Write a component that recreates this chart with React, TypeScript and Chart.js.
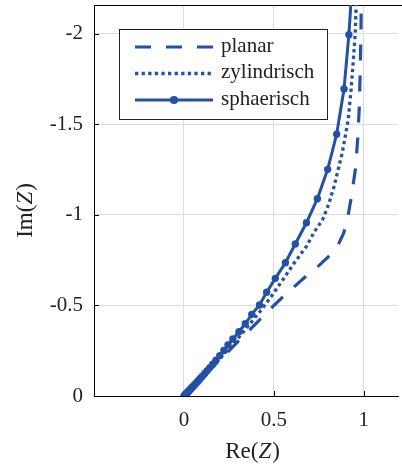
import React, { useEffect, useRef } from 'react';
import { Chart, registerables } from 'chart.js';

Chart.register(...registerables);

// ---- data ----
const seriesNames = ['planar', 'zylindrisch', 'sphaerisch'];

const planarRe = [0, 0.1, 0.2, 0.3, 0.4, 0.5, 0.558, 0.62, 0.682, 0.75, 0.812, 0.855, 0.889, 0.913, 0.931, 0.954, 0.967, 0.975, 0.98, 0.984, 0.987];
const planarIm = [0, -0.1, -0.2, -0.3, -0.4, -0.5, -0.555, -0.61, -0.665, -0.72, -0.778, -0.83, -0.902, -1.0, -1.101, -1.258, -1.433, -1.6, -1.8, -2.0, -2.3];

const zylRe = [0, 0.1, 0.2, 0.3, 0.36, 0.429, 0.485, 0.549, 0.613, 0.68, 0.724, 0.77, 0.805, 0.834, 0.88, 0.913, 0.93, 0.945, 0.952, 0.962];
const zylIm = [0, -0.102, -0.208, -0.318, -0.39, -0.475, -0.549, -0.641, -0.735, -0.825, -0.906, -0.972, -1.06, -1.156, -1.343, -1.525, -1.7, -1.9, -2.0, -2.3];

const sphRe = [0, 0.005, 0.006, 0.007, 0.008, 0.009, 0.01, 0.012, 0.013, 0.015, 0.017, 0.019, 0.021, 0.023, 0.026, 0.029, 0.033, 0.037, 0.041, 0.046, 0.052, 0.058, 0.066, 0.074, 0.082, 0.092, 0.103, 0.116, 0.129, 0.144, 0.16, 0.178, 0.199, 0.222, 0.245, 0.272, 0.306, 0.341, 0.377, 0.42, 0.46, 0.508, 0.564, 0.619, 0.681, 0.742, 0.799, 0.849, 0.89, 0.917, 0.94];
const sphIm = [0, -0.005, -0.006, -0.007, -0.008, -0.009, -0.01, -0.012, -0.013, -0.015, -0.017, -0.019, -0.021, -0.024, -0.027, -0.03, -0.034, -0.038, -0.043, -0.048, -0.054, -0.061, -0.069, -0.078, -0.087, -0.098, -0.11, -0.124, -0.14, -0.157, -0.176, -0.198, -0.223, -0.251, -0.282, -0.315, -0.355, -0.399, -0.451, -0.503, -0.573, -0.65, -0.736, -0.84, -0.957, -1.09, -1.252, -1.446, -1.696, -1.996, -2.35];

const xTicks = [-0.5, 0, 0.5, 1];
const yTicks = [0, -0.5, -1, -1.5, -2];
const xRange = [-0.5, 1.19];
const yRange = [-2.16, 0];

const BLUE = 'rgb(36, 80, 166)';
const FONT = '"Liberation Serif", "Times New Roman", serif';

const toPts = (xs: number[], ys: number[]) => xs.map((x, i) => ({ x, y: ys[i] }));

const decorPlugin = {
  id: 'decor',
  beforeDatasetsDraw(chart: any) {
    const { ctx, chartArea: a, scales } = chart;
    ctx.save();
    ctx.strokeStyle = '#000';
    ctx.lineWidth = 1;
    // top border
    ctx.beginPath();
    ctx.moveTo(a.left, a.top + 0.5);
    ctx.lineTo(402, a.top + 0.5);
    ctx.stroke();
    // inward ticks
    const tl = 5;
    ctx.beginPath();
    for (const v of yTicks) {
      const y = Math.round(scales.y.getPixelForValue(v)) + 0.5;
      ctx.moveTo(a.left, y);
      ctx.lineTo(a.left + tl, y);
    }
    for (const v of xTicks) {
      const x = Math.round(scales.x.getPixelForValue(v)) + 0.5;
      ctx.moveTo(x, a.bottom);
      ctx.lineTo(x, a.bottom - tl);
    }
    ctx.stroke();
    ctx.restore();
  },
  afterDraw(chart: any) {
    const { ctx, chartArea: a } = chart;
    ctx.save();
    // legend
    const lx = 119.5, ly = 29.5, lw = 208, lh = 90;
    ctx.fillStyle = '#fff';
    ctx.fillRect(lx, ly, lw, lh);
    ctx.strokeStyle = '#222';
    ctx.lineWidth = 1;
    ctx.strokeRect(lx, ly, lw, lh);
    const rows = [47, 73.5, 100];
    chart.data.datasets.forEach((ds: any, i: number) => {
      const y = rows[i];
      ctx.save();
      ctx.strokeStyle = ds.borderColor;
      ctx.lineWidth = ds.borderWidth;
      ctx.setLineDash(ds.borderDash || []);
      ctx.lineCap = 'butt';
      ctx.beginPath();
      ctx.moveTo(135, y);
      ctx.lineTo(213, y);
      ctx.stroke();
      if (ds.pointRadius > 0) {
        ctx.setLineDash([]);
        ctx.fillStyle = ds.pointBackgroundColor;
        ctx.beginPath();
        ctx.arc(174, y, ds.pointRadius + 0.4, 0, Math.PI * 2);
        ctx.fill();
      }
      ctx.restore();
      ctx.fillStyle = '#222';
      ctx.font = `21px ${FONT}`;
      ctx.textBaseline = 'middle';
      ctx.textAlign = 'left';
      ctx.fillText(ds.label, 221, y - 1);
    });

    // axis titles with italic Z
    const drawTitle = (cx: number, cy: number, pre: string) => {
      const parts = [
        { t: pre + '(', f: `23px ${FONT}` },
        { t: 'Z', f: `italic 23px ${FONT}` },
        { t: ')', f: `23px ${FONT}` },
      ];
      let w = 0;
      for (const p of parts) { ctx.font = p.f; w += ctx.measureText(p.t).width; }
      let x = cx - w / 2;
      ctx.fillStyle = '#222';
      ctx.textBaseline = 'alphabetic';
      ctx.textAlign = 'left';
      for (const p of parts) { ctx.font = p.f; ctx.fillText(p.t, x, cy); x += ctx.measureText(p.t).width + (p.t === 'Z' ? 1 : 0); }
    };
    drawTitle(252, 458, 'Re');
    ctx.save();
    ctx.translate(32, 211);
    ctx.rotate(-Math.PI / 2);
    drawTitle(0, 0, 'Im');
    ctx.restore();
    ctx.restore();
  },
};

const zeroPad = (s: any) => {
  s.paddingTop = 0;
  s.paddingBottom = 0;
  s.paddingLeft = 0;
  s.paddingRight = 0;
};

export default function App() {
  const ref = useRef<HTMLCanvasElement | null>(null);
  useEffect(() => {
    document.body.style.margin = '0';
    const canvas = ref.current!;
    const chart = new Chart(canvas, {
      type: 'scatter',
      data: {
        datasets: [
          {
            label: seriesNames[0],
            data: toPts(planarRe, planarIm),
            showLine: true,
            borderColor: BLUE,
            backgroundColor: BLUE,
            borderWidth: 3.2,
            borderDash: [16, 15],
            pointRadius: 0,
          },
          {
            label: seriesNames[1],
            data: toPts(zylRe, zylIm),
            showLine: true,
            borderColor: BLUE,
            backgroundColor: BLUE,
            borderWidth: 3.3,
            borderDash: [3.3, 3.3],
            pointRadius: 0,
          },
          {
            label: seriesNames[2],
            data: toPts(sphRe, sphIm),
            showLine: true,
            borderColor: BLUE,
            backgroundColor: BLUE,
            pointBackgroundColor: BLUE,
            pointBorderColor: BLUE,
            borderWidth: 3,
            pointRadius: 3.7,
            pointBorderWidth: 0,
          },
        ] as any,
      },
      options: {
        animation: false,
        responsive: false,
        devicePixelRatio: 1,
        events: [],
        layout: { padding: { left: 0, top: 5, right: 0, bottom: 0 } },
        plugins: { legend: { display: false }, tooltip: { enabled: false } },
        scales: {
          x: {
            type: 'linear',
            min: xRange[0],
            max: xRange[1],
            afterFit: (s: any) => { s.height = 74; zeroPad(s); },
            afterBuildTicks: (s: any) => { s.ticks = xTicks.map((v) => ({ value: v })); },
            grid: { color: '#dcdcdc', lineWidth: 1, drawTicks: false },
            border: { color: '#000', width: 1 },
            ticks: {
              padding: 12,
              color: '#222',
              font: { family: FONT, size: 21 },
              callback: (v: any) => (Number(v) === -0.5 ? '' : String(v)),
            },
          },
          y: {
            type: 'linear',
            min: yRange[0],
            max: yRange[1],
            reverse: true,
            afterFit: (s: any) => { s.width = 94; zeroPad(s); },
            afterBuildTicks: (s: any) => { s.ticks = yTicks.map((v) => ({ value: v })); },
            grid: { color: '#dcdcdc', lineWidth: 1, drawTicks: false },
            border: { color: '#000', width: 1 },
            ticks: {
              padding: 11,
              color: '#222',
              font: { family: FONT, size: 21 },
              callback: (v: any) => String(v),
            },
          },
        },
      } as any,
      plugins: [decorPlugin],
    });
    return () => chart.destroy();
  }, []);
  return (
    <div style={{ position: 'relative', width: 402, height: 470 }}>
      <canvas ref={ref} width={402} height={470} style={{ width: 402, height: 470, display: 'block' }} />
    </div>
  );
}
